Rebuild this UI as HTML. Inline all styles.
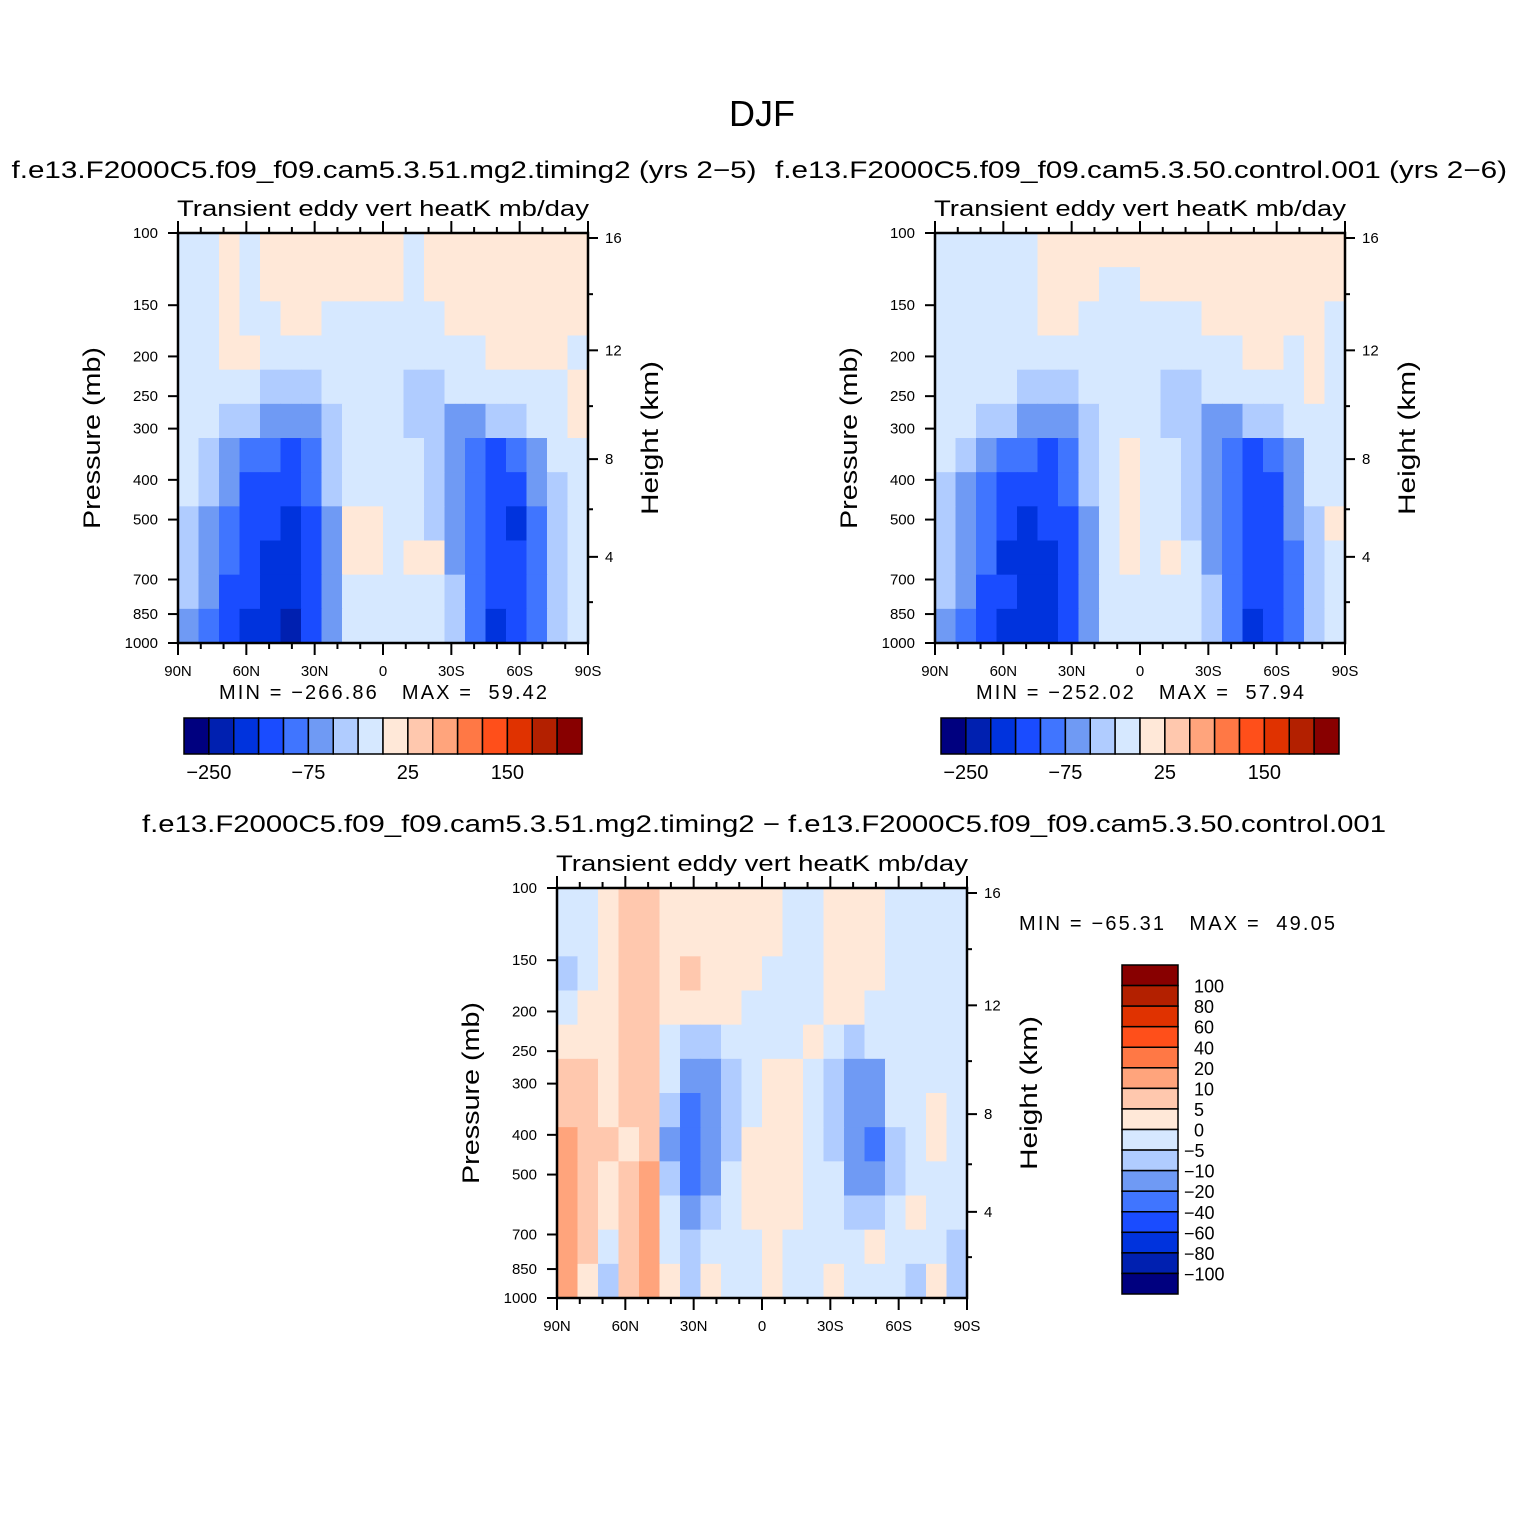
<!DOCTYPE html>
<html><head><meta charset="utf-8"><style>
body{margin:0;background:#fff;}
svg{display:block;font-family:"Liberation Sans",sans-serif;}
</style></head><body>
<svg id="root" width="1524" height="1524" viewBox="0 0 1524 1524">
<rect width="1524" height="1524" fill="#fff"/>
<text x="762" y="126" font-size="36" text-anchor="middle" textLength="66" lengthAdjust="spacingAndGlyphs">DJF</text>
<text x="384" y="178" font-size="24" text-anchor="middle" textLength="745" lengthAdjust="spacingAndGlyphs">f.e13.F2000C5.f09_f09.cam5.3.51.mg2.timing2 (yrs 2−5)</text>
<text x="1141" y="178" font-size="24" text-anchor="middle" textLength="732" lengthAdjust="spacingAndGlyphs">f.e13.F2000C5.f09_f09.cam5.3.50.control.001 (yrs 2−6)</text>
<text x="764" y="832" font-size="24" text-anchor="middle" textLength="1244" lengthAdjust="spacingAndGlyphs">f.e13.F2000C5.f09_f09.cam5.3.51.mg2.timing2 − f.e13.F2000C5.f09_f09.cam5.3.50.control.001</text>
<text x="383" y="699" font-size="20" text-anchor="middle" textLength="328" lengthAdjust="spacing" xml:space="preserve">MIN = −266.86   MAX =  59.42</text>
<text x="1140" y="699" font-size="20" text-anchor="middle" textLength="328" lengthAdjust="spacing" xml:space="preserve">MIN = −252.02   MAX =  57.94</text>
<text x="1177" y="930" font-size="20" text-anchor="middle" textLength="316" lengthAdjust="spacing" xml:space="preserve">MIN = −65.31   MAX =  49.05</text>
<g id="plots"></g>
</svg>
<script>
const levelsAbs=[-250,-200,-150,-100,-75,-50,-25,0,25,50,75,100,150,200,250];
const levelsDiff=[-100,-80,-60,-40,-20,-10,-5,0,5,10,20,40,60,80,100];
const colors=["#00007f","#0020b0","#0033dd","#1a4cff","#4075ff","#6f9af4","#b0ccff","#d6e8ff","#ffe8d8","#ffc8ae","#ffa47c","#ff7845","#ff4f1a","#e03200","#b32000","#880000"];
const latTicks=["90N","60N","30N","0","30S","60S","90S"];
const presTicks=[100,150,200,250,300,400,500,700,850,1000];
const hgtTicks=[16,12,8,4];
const absTickLabels=["−250","−75","25","150"];
const diffTickLabels=["100","80","60","40","20","10","5","0","−5","−10","−20","−40","−60","−80","−100"];

const field1=[
[-10,-10,10,-10,10,10,10,10,10,10,10,-10,10,10,10,10,10,10,10,10],
[-10,-10,10,-10,10,10,10,10,10,10,10,-10,10,10,10,10,10,10,10,10],
[-10,-10,10,-10,-10,10,10,-10,-10,-10,-10,-10,-10,10,10,10,10,10,10,10],
[-10,-10,10,10,-10,-10,-10,-10,-10,-10,-10,-10,-10,-10,-10,10,10,10,10,-10],
[-10,-10,-10,-10,-30,-30,-30,-10,-10,-10,-10,-30,-30,-10,-10,-10,-10,-10,-10,10],
[-10,-10,-30,-30,-60,-60,-60,-30,-10,-10,-10,-30,-30,-60,-60,-30,-30,-10,-10,10],
[-10,-30,-60,-90,-90,-120,-90,-30,-10,-10,-10,-10,-30,-60,-90,-120,-90,-60,-10,-10],
[-10,-30,-60,-120,-120,-120,-90,-30,-10,-10,-10,-10,-30,-60,-90,-120,-120,-60,-30,-10],
[-30,-60,-90,-120,-120,-175,-120,-60,10,10,-10,-10,-30,-60,-90,-120,-175,-90,-30,-10],
[-30,-60,-90,-120,-175,-175,-120,-60,10,10,-10,10,10,-60,-90,-120,-120,-90,-30,-10],
[-30,-60,-120,-120,-175,-175,-120,-60,-10,-10,-10,-10,-10,-30,-90,-120,-120,-90,-30,-10],
[-60,-90,-120,-175,-175,-225,-120,-60,-10,-10,-10,-10,-10,-30,-90,-175,-120,-90,-30,-10]];
const field2=[
[-10,-10,-10,-10,-10,10,10,10,10,10,10,10,10,10,10,10,10,10,10,10],
[-10,-10,-10,-10,-10,10,10,10,-10,-10,10,10,10,10,10,10,10,10,10,10],
[-10,-10,-10,-10,-10,10,10,-10,-10,-10,-10,-10,-10,10,10,10,10,10,10,-10],
[-10,-10,-10,-10,-10,-10,-10,-10,-10,-10,-10,-10,-10,-10,-10,10,10,-10,10,-10],
[-10,-10,-10,-10,-30,-30,-30,-10,-10,-10,-10,-30,-30,-10,-10,-10,-10,-10,10,-10],
[-10,-10,-30,-30,-60,-60,-60,-30,-10,-10,-10,-30,-30,-60,-60,-30,-30,-10,-10,-10],
[-10,-30,-60,-90,-90,-120,-90,-30,-10,10,-10,-10,-30,-60,-90,-120,-90,-60,-10,-10],
[-30,-60,-90,-120,-120,-120,-90,-30,-10,10,-10,-10,-30,-60,-90,-120,-120,-60,-10,-10],
[-30,-60,-90,-120,-175,-120,-120,-60,-10,10,-10,-10,-30,-60,-90,-120,-120,-60,-30,10],
[-30,-60,-90,-175,-175,-175,-120,-60,-10,10,-10,10,-10,-60,-90,-120,-120,-90,-30,-10],
[-30,-60,-120,-120,-175,-175,-120,-60,-10,-10,-10,-10,-10,-30,-90,-120,-120,-90,-30,-10],
[-60,-90,-120,-175,-175,-175,-120,-60,-10,-10,-10,-10,-10,-30,-90,-175,-120,-90,-30,-10]];
const field3=[
[-3,-3,3,7,7,3,3,3,3,3,3,-3,-3,3,3,3,-3,-3,-3,-3],
[-3,-3,3,7,7,3,3,3,3,3,3,-3,-3,3,3,3,-3,-3,-3,-3],
[-7,-3,3,7,7,3,7,3,3,3,-3,-3,-3,3,3,3,-3,-3,-3,-3],
[-3,3,3,7,7,3,3,3,3,-3,-3,-3,-3,3,3,-3,-3,-3,-3,-3],
[3,3,3,7,7,-3,-7,-7,-3,-3,-3,-3,3,-3,-7,-3,-3,-3,-3,-3],
[7,7,3,7,7,-3,-15,-15,-7,-3,3,3,-3,-7,-15,-15,-3,-3,-3,-3],
[7,7,3,7,7,-7,-30,-15,-7,-3,3,3,-3,-7,-15,-15,-3,-3,3,-3],
[15,7,7,3,7,-15,-30,-15,-7,3,3,3,-3,-7,-15,-30,-7,-3,3,-3],
[15,7,3,7,15,-7,-30,-15,-3,3,3,3,-3,-3,-15,-15,-7,-3,-3,-3],
[15,7,3,7,15,-3,-15,-7,-3,3,3,3,-3,-3,-7,-7,-3,3,-3,-3],
[15,7,-3,7,15,-3,-7,-3,-3,-3,3,-3,-3,-3,-3,3,-3,-3,-3,-7],
[15,3,-7,7,15,3,-7,3,-3,-3,3,-3,-3,3,-3,-3,-3,-7,3,-7]];

const NS="http://www.w3.org/2000/svg";
const G=document.getElementById('plots');
function el(tag,attrs,parent){const e=document.createElementNS(NS,tag);for(const k in attrs)e.setAttribute(k,attrs[k]);(parent||G).appendChild(e);return e;}
function colorFor(v,lv){let i=0;while(i<lv.length&&v>lv[i])i++;return colors[i];}
function stdP(z){return z<=11?1013.25*Math.pow(1-z/44.33,5.255):226.3*Math.exp(-(z-11)/6.34);}

function panel(x0,y0,field,lv,name){
  const W=410,H=410;
  const g=el('g',{});
  
  
  const rows=field.length,cols=field[0].length;
  const xs=c=>x0+c*W/cols, ys=r=>y0+r*H/rows;
  for(let r=0;r<rows;r++)for(let c=0;c<cols;c++){
    const rc=el('rect',{x:xs(c),y:ys(r),width:W/cols+0.6,height:H/rows+0.6,fill:colorFor(field[r][c],lv)},g);
    
    
  }
  const fr=el('rect',{x:x0,y:y0,width:W,height:H,fill:'none',stroke:'#000','stroke-width':2.5},g);
  
  
  for(let i=0;i<=18;i++){
    const x=x0+i*W/18, major=i%3==0, L=major?12:6;
    el('line',{x1:x,y1:y0+H,x2:x,y2:y0+H+L,stroke:'#000','stroke-width':2},g);
    el('line',{x1:x,y1:y0,x2:x,y2:y0-L,stroke:'#000','stroke-width':2},g);
  }
  latTicks.forEach((t,i)=>{
    const tx=el('text',{x:x0+i*W/6,y:y0+H+33,'font-size':15,'text-anchor':'middle'},g);tx.textContent=t;
    
    
  });
  const py=p=>y0+H*Math.log10(p/100);
  presTicks.forEach(p=>{
    el('line',{x1:x0,y1:py(p),x2:x0-10,y2:py(p),stroke:'#000','stroke-width':2},g);
    const tx=el('text',{x:x0-20,y:py(p)+5,'font-size':15,'text-anchor':'end'},g);tx.textContent=p;
    
    
  });
  const hy=z=>py(stdP(z));
  [2,4,6,8,10,12,14,16].forEach(z=>{const L=z%4==0?10:5;el('line',{x1:x0+W,y1:hy(z),x2:x0+W+L,y2:hy(z),stroke:'#000','stroke-width':2},g);});
  hgtTicks.forEach(z=>{
    const tx=el('text',{x:x0+W+17,y:hy(z)+5,'font-size':15},g);tx.textContent=z;
    
    
  });
  const t1=el('text',{x:x0+W/2,y:y0-17,'font-size':22,'text-anchor':'middle',textLength:412,lengthAdjust:'spacingAndGlyphs'},g);t1.textContent='Transient eddy vert heatK mb/day';
  
  
  const t2=el('text',{'font-size':24,'text-anchor':'middle',textLength:182,lengthAdjust:'spacingAndGlyphs',transform:`translate(${x0-78},${y0+H/2}) rotate(-90)`},g);t2.textContent='Pressure (mb)';
  
  
  const t3=el('text',{'font-size':24,'text-anchor':'middle',textLength:154,lengthAdjust:'spacingAndGlyphs',transform:`translate(${x0+W+70},${y0+H/2}) rotate(-90)`},g);t3.textContent='Height (km)';
  
  
}
function hbar(x0,y0,name){
  const g=el('g',{});
  
  
  const w=398/16;
  colors.forEach((c,i)=>{
    const r=el('rect',{x:x0+i*w,y:y0,width:w,height:36,fill:c,stroke:'#000','stroke-width':1.5},g);
    
    
  });
  absTickLabels.forEach((t,i)=>{
    const tx=el('text',{x:x0+(1+4*i)*w,y:y0+61,'font-size':20,'text-anchor':'middle'},g);tx.textContent=t;
    
    
  });
}
panel(178,233,field1,levelsAbs,'panel-timing2');
panel(935,233,field2,levelsAbs,'panel-control');
panel(557,888,field3,levelsDiff,'panel-difference');
hbar(184,718,'colorbar-panel1');
hbar(941,718,'colorbar-panel2');
(function(){
  const x0=1122,y0=965,h=329/16;
  const g=el('g',{});
  
  
  for(let i=0;i<16;i++){
    const r=el('rect',{x:x0,y:y0+i*h,width:56,height:h,fill:colors[15-i],stroke:'#000','stroke-width':1.5},g);
    
    
  }
  diffTickLabels.forEach((t,i)=>{
    const tx=el('text',{x:x0+70,y:y0+(i+1)*h+7,'font-size':18,dx:t.startsWith('−')?-8:2},g);tx.textContent=t;
    
    
  });
})();
</script>
</body></html>
